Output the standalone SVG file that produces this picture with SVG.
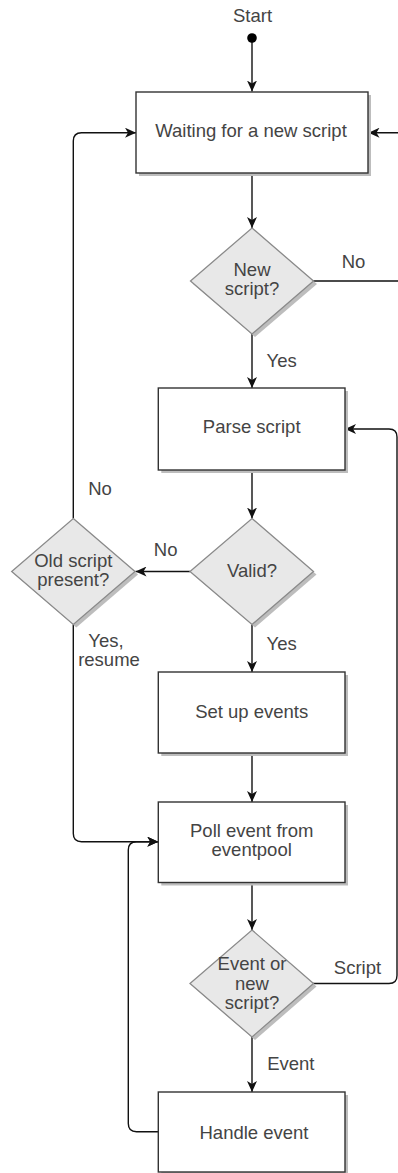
<svg xmlns="http://www.w3.org/2000/svg" width="398" height="1173" viewBox="0 0 398 1173">
<defs>
<style>
.box{fill:#fff;stroke:#333;stroke-width:1.4}
.dia{fill:#e8e8e8;stroke:#8a8a8a;stroke-width:1.3}
.shadow{fill:#bdbdbd;stroke:none}
.t{font-family:"Liberation Sans",Arial,sans-serif;font-size:18.5px;fill:#444;text-anchor:middle}
.edge{fill:none;stroke:#111;stroke-width:1.4}
</style>
<marker id="arr" viewBox="0 0 12 10" refX="11" refY="5" markerWidth="12" markerHeight="10" markerUnits="userSpaceOnUse" orient="auto">
<path d="M0,0 L11,5 L0,10 L3,5 z" fill="#111"/>
</marker>
</defs>

<g id="connectors">
<path class="edge" d="M252,42 L252,91.5" marker-end="url(#arr)"/>
<path class="edge" d="M252,173 L252,228" marker-end="url(#arr)"/>
<path class="edge" d="M252,334 L252,388" marker-end="url(#arr)"/>
<path class="edge" d="M252,470 L252,518.5" marker-end="url(#arr)"/>
<path class="edge" d="M190,571.5 L135.5,571.5" marker-end="url(#arr)"/>
<path class="edge" d="M252,624.5 L252,672" marker-end="url(#arr)"/>
<path class="edge" d="M252,753 L252,802" marker-end="url(#arr)"/>
<path class="edge" d="M252,882.5 L252,930" marker-end="url(#arr)"/>
<path class="edge" d="M252,1037 L252,1092" marker-end="url(#arr)"/>
<path class="edge" d="M73.3,518.5 L73.3,141 Q73.3,132.7 81.5,132.7 L136,132.7" marker-end="url(#arr)"/>
<path class="edge" d="M73.3,624.5 L73.3,833.5 Q73.3,841.7 81.5,841.7 L158.3,841.7" marker-end="url(#arr)"/>
<path class="edge" d="M158.3,1131.7 L136.5,1131.7 Q128.3,1131.7 128.3,1123.5 L128.3,850 Q128.3,841.7 136.5,841.7 L158.3,841.7" marker-end="url(#arr)"/>
<path class="edge" d="M313,281 L400,281 L400,132.7 L368.5,132.7" marker-end="url(#arr)"/>
<path class="edge" d="M313,983.5 L389,983.5 Q397,983.5 397,975.5 L397,437 Q397,429 389,429 L345,429" marker-end="url(#arr)"/>
</g>

<g id="start">
<text class="t" x="252.5" y="22">Start</text>
<circle cx="252" cy="38" r="4.8" fill="#000"/>
</g>

<g id="waiting">
<rect class="shadow" x="139" y="95" width="232" height="81"/>
<rect class="box" x="136" y="92" width="232" height="81"/>
<text class="t" x="251" y="137">Waiting for a new script</text>
</g>

<g id="newscript">
<polygon class="shadow" points="255,231 317,284 255,337 193,284"/>
<polygon class="dia" points="252,228 313.5,281 252,334 190.5,281"/>
<text class="t" x="252" y="276">New</text>
<text class="t" x="252" y="295">script?</text>
</g>

<g id="parse">
<rect class="shadow" x="161.3" y="391" width="186.7" height="82"/>
<rect class="box" x="158.3" y="388" width="186.7" height="82"/>
<text class="t" x="251.7" y="433">Parse script</text>
</g>

<g id="valid">
<polygon class="shadow" points="255,521.5 316.5,574.5 255,627.5 193,574.5"/>
<polygon class="dia" points="252,518.5 313.5,571.5 252,624.5 190,571.5"/>
<text class="t" x="252" y="577">Valid?</text>
</g>

<g id="oldscript">
<polygon class="shadow" points="76.3,521.5 138,574.5 76.3,627.5 14.7,574.5"/>
<polygon class="dia" points="73.3,518.5 135,571.5 73.3,624.5 11.7,571.5"/>
<text class="t" x="73.3" y="567">Old script</text>
<text class="t" x="73.3" y="586">present?</text>
</g>

<g id="setup">
<rect class="shadow" x="161.3" y="675" width="186.7" height="81"/>
<rect class="box" x="158.3" y="672" width="186.7" height="81"/>
<text class="t" x="251.7" y="717.5">Set up events</text>
</g>

<g id="poll">
<rect class="shadow" x="161.3" y="805" width="186.7" height="80.5"/>
<rect class="box" x="158.3" y="802" width="186.7" height="80.5"/>
<text class="t" x="251.7" y="836.7">Poll event from</text>
<text class="t" x="251.7" y="856">eventpool</text>
</g>

<g id="eventornew">
<polygon class="shadow" points="255,933 316.5,986.5 255,1040 193,986.5"/>
<polygon class="dia" points="252,930 313.5,983.5 252,1037 190,983.5"/>
<text class="t" x="252" y="970">Event or</text>
<text class="t" x="252" y="989.5">new</text>
<text class="t" x="252" y="1009">script?</text>
</g>

<g id="handle">
<rect class="shadow" x="161.3" y="1095" width="186.7" height="80"/>
<rect class="box" x="158.3" y="1092" width="186.7" height="80"/>
<text class="t" x="254" y="1139.3">Handle event</text>
</g>

<g id="labels">
<text class="t" x="353.5" y="268">No</text>
<text class="t" x="281.7" y="366.7">Yes</text>
<text class="t" x="100" y="495">No</text>
<text class="t" x="165.7" y="556">No</text>
<text class="t" x="106" y="646.7">Yes,</text>
<text class="t" x="109" y="665.7">resume</text>
<text class="t" x="281.7" y="650">Yes</text>
<text class="t" x="357.5" y="974">Script</text>
<text class="t" x="290.8" y="1070">Event</text>
</g>
</svg>
